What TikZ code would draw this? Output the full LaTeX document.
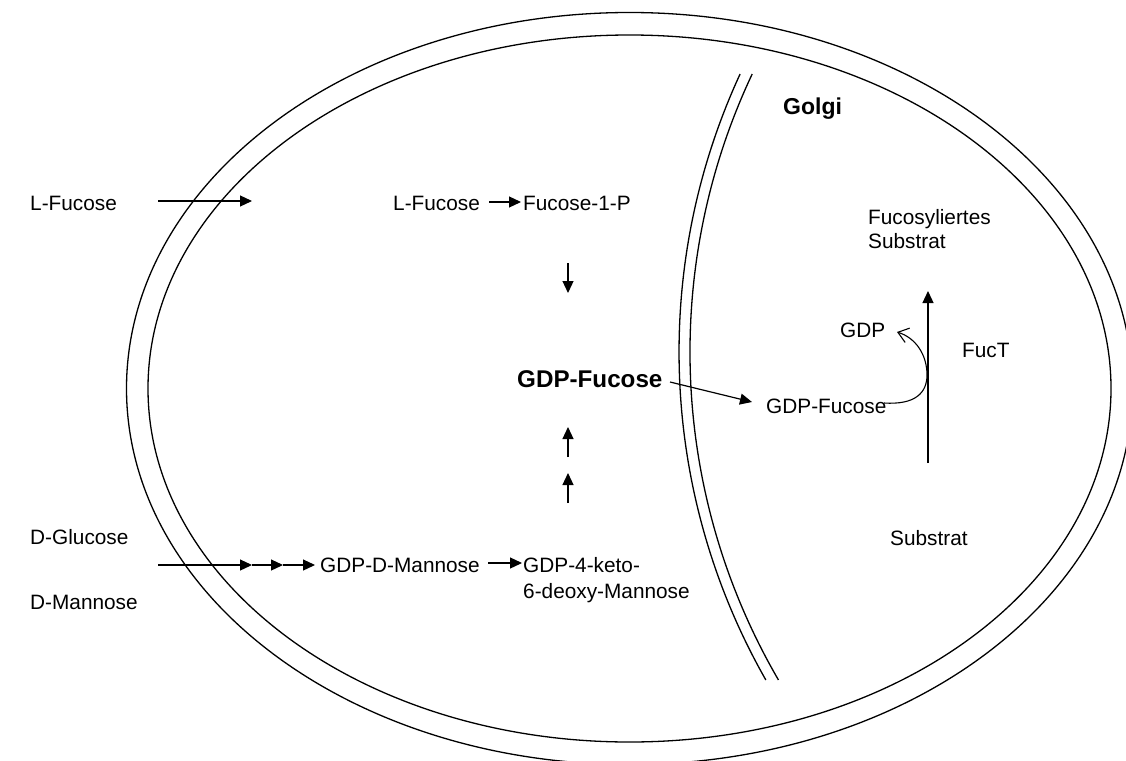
\documentclass[tikz,border=0pt]{standalone}
\usepackage{fontspec}
\setmainfont{Liberation Sans}
\usetikzlibrary{arrows.meta}
\tikzset{
  lbl/.style={anchor=base west, inner sep=0pt, font=\fontsize{20.8}{26}\selectfont},
  blbl/.style={anchor=base west, inner sep=0pt, font=\fontsize{24.2}{30}\selectfont\bfseries},
  gbl/.style={anchor=base west, inner sep=0pt, font=\fontsize{23}{28}\selectfont\bfseries},
  arr/.style={line width=1.2pt, -{Triangle[length=12pt,width=11pt]}},
  memb/.style={line width=1.3pt},
}
\begin{document}
\begin{tikzpicture}[x=1pt,y=-1pt]
\useasboundingbox (0,0) rectangle (1126,760);
\clip (0,0) rectangle (1126,760);
\fill[white] (0,0) rectangle (1126,760);
% cell membrane (double ellipse)
\draw[memb] (629.5,388.5) ellipse [x radius=503, y radius=376];
\draw[memb] (629.5,388.5) ellipse [x radius=481.5, y radius=353.5];
% Golgi membrane (double arc)
\draw[memb] (740.1,74) arc [start angle=204.79, end angle=150.35, radius=663];
\draw[memb] (752.2,74) arc [start angle=205.24, end angle=149.80, radius=652];
% texts
\node[lbl] (lfo) at (30,210) {L-Fucose};
\node[lbl] (lfi) at (393,210) {L-Fucose};
\node[lbl] (f1p) at (523,210) {Fucose-1-P};
\node[blbl] (gdpb) at (517,387) {GDP-Fucose};
\node[lbl] (gdpf) at (766,413) {GDP-Fucose};
\node[lbl] (gdp) at (840,337) {GDP};
\node[lbl] (fuct) at (962,357) {FucT};
\node[gbl] (golgi) at (783,114) {Golgi};
\node[lbl] (fs1) at (868,224) {Fucosyliertes};
\node[lbl] (fs2) at (868,248) {Substrat};
\node[lbl] (sub) at (890,545) {Substrat};
\node[lbl] (dglc) at (30,544) {D-Glucose};
\node[lbl] (dman) at (30,609) {D-Mannose};
\node[lbl] (gdpm) at (320,572) {GDP-D-Mannose};
\node[lbl] (k1) at (523,572) {GDP-4-keto-};
\node[lbl] (k2) at (523,598) {6-deoxy-Mannose};
% arrow end points
\coordinate (a1s) at (158,201);
\coordinate (a1e) at (252,201);
\coordinate (a2s) at (489,202);
\coordinate (a2e) at (521,202);
\coordinate (a3s) at (568,263);
\coordinate (a3e) at (568,293);
\coordinate (a4s) at (568,457);
\coordinate (a4e) at (568,427);
\coordinate (a5s) at (568,503);
\coordinate (a5e) at (568,473);
\coordinate (a6s) at (670,382);
\coordinate (a6e) at (752,402);
\coordinate (d0) at (158,565);
\coordinate (d1) at (252,565);
\coordinate (d2) at (283,565);
\coordinate (d3) at (315,565);
\coordinate (m1) at (488,563);
\coordinate (m2) at (522,563);
\coordinate (vs) at (928,463);
\coordinate (ve) at (928,291);
\coordinate (cs) at (884,403);
\coordinate (cm) at (927,375);
\coordinate (ce) at (897,332);
% arrows
\draw[arr] (a1s) -- (a1e);
\draw[arr] (a2s) -- (a2e);
\draw[arr] (a3s) -- (a3e);
\draw[arr] (a4s) -- (a4e);
\draw[arr] (a5s) -- (a5e);
\draw[arr] (a6s) -- (a6e);
\draw[arr] (d0) -- (d1);
\draw[arr] (d1) -- (d2);
\draw[arr] (d2) -- (d3);
\draw[arr] (m1) -- (m2);
\draw[arr] (vs) -- (ve);
\draw[line width=1.1pt, -{Straight Barb[length=10pt,width=15pt,line width=1.1pt]}]
  (cs) .. controls (915,405) and (927,393) .. (cm)
       .. controls (927,355) and (916,338) .. (ce);
\end{tikzpicture}
\end{document}
